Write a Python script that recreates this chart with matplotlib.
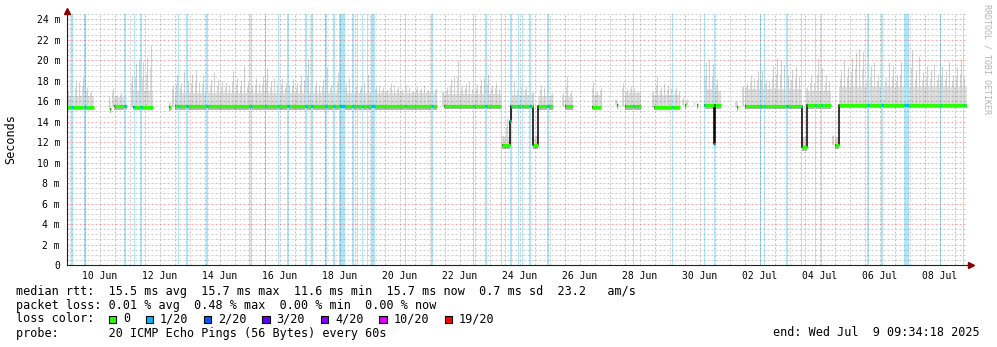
import numpy as np
import matplotlib
matplotlib.use('Agg')
import matplotlib.pyplot as plt
from matplotlib.patches import Rectangle
from datetime import datetime, timedelta

plt.rcParams['font.family'] = ['DejaVu Sans Mono', 'DejaVu Sans']

nan = np.nan

# time is counted in days since 2025-06-09 00:00
day0 = datetime(2025, 6, 9)
t_end_dt = datetime(2025, 7, 9, 9, 34, 18)
t_end = (t_end_dt - day0).total_seconds() / 86400
t_start = t_end - 30

# median rtt segments (ms): start day, end day, median, top of the dense smoke
seg_start = [0.399, 1.822, 1.975, 2.589, 3.809, 3.989, 12.975, 14.909, 15.175, 15.209,
             15.940, 16.099, 16.989, 17.899, 18.732, 18.989, 19.955, 20.989, 21.399, 21.622,
             21.955, 22.009, 22.732, 22.989, 24.899, 25.055, 25.989, 26.142]
seg_end = [1.299, 1.865, 2.399, 3.255, 3.849, 12.732, 14.875, 15.175, 15.209, 15.940,
           16.099, 16.589, 17.255, 18.209, 18.770, 19.542, 20.842, 21.030, 21.440, 21.955,
           22.009, 22.190, 22.770, 24.899, 25.055, 25.875, 26.142, 30.399]
seg_level = [15.45, 15.2, 15.5, 15.45, 15.4, 15.5, 15.55, 11.7, 14.1, 15.55,
             11.7, 15.5, 15.5, 15.45, 15.6, 15.5, 15.45, 15.6, 15.6, 15.6,
             11.8, 15.6, 15.4, 15.55, 11.5, 15.6, 11.7, 15.65]
seg_fill = [16.5, 15.9, 16.4, 17.0, 15.8, 16.8, 16.7, 12.5, 14.4, 16.6,
            12.5, 16.5, 16.4, 16.6, 16.0, 16.8, 16.6, 15.9, 15.9, 17.2,
            12.4, 17.0, 15.9, 17.2, 12.5, 17.0, 12.5, 17.4]

# highest ping (ms) in each 3 hour block starting 2025-06-09 09:00
smoke_t0 = 0.375
smoke_hours = 3
smoke_peak = [
    17.0, 18.7, 18.0, 17.9, 18.4, 17.4, 17.0, nan, nan, nan,
    nan, 16.5, 17.3, 16.6, 16.9, 16.7, nan, 18.5, 19.7, 20.1,
    19.8, 20.3, 21.5, nan, nan, nan, nan, 15.9, 17.6, 18.6,
    17.8, 18.9, 18.0, 18.7, 19.0, 17.9, 18.6, 18.9, 18.2, 18.8,
    18.2, 18.0, 17.9, 17.6, 18.9, 18.3, 18.0, 19.4, 17.9, 17.6,
    18.3, 17.8, 18.5, 19.2, 18.0, 18.3, 18.6, 18.3, 17.8, 17.6,
    18.2, 17.8, 18.6, 18.1, 20.1, 18.0, 17.9, 17.6, 18.2, 19.3,
    17.7, 18.0, 18.8, 18.4, 17.8, 18.3, 18.5, 17.9, 17.5, 17.8,
    18.7, 18.0, 17.5, 17.6, 17.4, 17.2, 17.8, 17.6, 17.5, 17.2,
    17.6, 17.4, 17.0, 17.5, 17.3, 17.6, 17.1, 17.5, 17.3, nan,
    17.0, 17.4, 18.2, 18.5, 20.0, 17.6, 17.8, 18.0, 17.6, 17.7,
    18.2, 18.3, 18.7, 17.6, 17.8, 17.2, 12.6, 14.4, 18.3, 18.0,
    17.6, 18.2, 17.5, 17.3, 16.9, 12.6, 17.6, 17.4, 17.5, 16.8,
    nan, nan, 16.8, 18.5, 17.0, nan, nan, nan, nan, nan,
    17.9, 17.0, 17.4, nan, nan, nan, 16.2, nan, 17.8, 17.2,
    17.5, 17.3, 17.0, nan, nan, nan, 17.0, 18.5, 17.4, 17.8,
    17.6, 17.7, 17.4, 17.0, 16.4, 16.2, nan, 15.9, nan, nan,
    19.8, 20.1, 19.6, 18.2, nan, nan, nan, nan, 16.0, nan,
    17.5, 17.8, 18.6, 18.3, 18.9, 19.0, 18.2, 18.0, 19.4, 20.2,
    20.0, 19.5, 18.6, 19.0, 19.3, 18.5, 12.5, 17.4, 18.6, 17.8,
    20.2, 19.2, 18.6, 18.0, 12.7, 12.5, 19.0, 20.0, 19.3, 20.2,
    20.8, 21.1, 20.8, 18.6, 19.4, 19.8, 18.6, 19.3, 18.4, 19.8,
    19.4, 18.6, 19.8, 20.0, 19.2, 21.0, 19.0, 20.4, 18.8, 19.4,
    19.0, 19.6, 18.7, 19.4, 19.0, 19.8, 18.6, 19.3, 20.0, 18.4,
]

# packet loss events (1/20): middle (day) and length (hours)
loss_at = [0.565, 0.999, 2.322, 2.642, 2.865, 4.122, 4.409, 5.065, 6.489, 6.542,
           7.009, 7.455, 7.765, 8.365, 8.565, 9.032, 9.299, 9.565, 9.932, 10.088,
           10.255, 10.422, 10.609, 11.675, 12.565, 13.955, 14.365, 14.875, 15.199, 15.455,
           15.589, 15.827, 16.432, 19.288, 20.588, 21.655, 21.975, 23.508, 23.655, 24.399,
           24.875, 25.342, 25.542, 27.099, 27.565, 28.372, 29.509, 30.288]
loss_hours = [1.6, 1.0, 1.6, 1.0, 1.0, 1.2, 1.6, 1.0, 1.0, 1.0,
              1.2, 1.0, 1.0, 1.0, 1.2, 1.0, 1.0, 5.3, 1.2, 1.2,
              1.0, 1.0, 3.2, 1.0, 1.0, 1.0, 1.2, 1.0, 1.0, 1.2,
              1.2, 1.8, 1.2, 1.0, 1.0, 1.2, 1.0, 1.0, 1.0, 1.2,
              1.0, 1.0, 1.2, 1.0, 1.0, 4.0, 1.0, 1.2]

loss_labels = ['0', '1/20', '2/20', '3/20', '4/20', '10/20', '19/20']
loss_colors = ['#26ff00', '#00b8ff', '#0059ff', '#5e00ff', '#7e00ff', '#dd00ff', '#ff0000']

rtt_stats = ['15.5 ms avg', '15.7 ms max', '11.6 ms min', '15.7 ms now', '0.7 ms sd', '23.2   am/s']
loss_stats = ['0.01 % avg', '0.48 % max', '0.00 % min', '0.00 % now']
probe_text = '20 ICMP Echo Pings (56 Bytes) every 60s'

W, H = 997, 347
ymax = 251 / 10.24


def fx(px):
    return px / W


def fy(py):
    return 1 - py / H


def nearest_seg(t):
    s = np.array(seg_start)
    e = np.array(seg_end)
    dist = np.maximum(s - t, 0) + np.maximum(t - e, 0)
    return int(np.argmin(dist))


fig = plt.figure(figsize=(W / 100, H / 100), dpi=100)
fig.patch.set_facecolor('white')
ax = fig.add_axes([fx(67), fy(265), 900 / W, 251 / H])
ax.set_xlim(t_start, t_end)
ax.set_ylim(0, ymax)

# smoke: dense part plus the spikes
for s, e, lvl, top in zip(seg_start, seg_end, seg_level, seg_fill):
    ax.fill_between([s, e], lvl - 0.1, top, color='#e0e0e0', lw=0, zorder=1)

bin_mid = smoke_t0 + smoke_hours / 24 * (np.arange(len(smoke_peak)) + 0.5)
for t, peak in zip(bin_mid, smoke_peak):
    if np.isnan(peak):
        continue
    k = nearest_seg(t)
    lvl, top = seg_level[k], seg_fill[k]
    mid = max(top + 0.5 * (peak - top), top)
    ax.bar(t, mid - lvl, bottom=lvl, width=0.055, color='#dadada', lw=0, zorder=1.1)
    ax.vlines(t, lvl, peak, color='#d2d2d2', lw=0.8, zorder=1.1)

for s, e, lvl in zip(seg_start, seg_end, seg_level):
    ax.fill_between([s, e], lvl - 0.35, lvl + 0.05, color='#b4b4b4', lw=0, zorder=1.3)

# loss background bars
for m, h in zip(loss_at, loss_hours):
    ax.axvspan(m - h / 48, m + h / 48, color='#aee5f8', lw=0, zorder=2)

# grid
dash = (0, (2, 2))
for d in np.arange(0.5, 31, 1.0):
    if t_start < d < t_end:
        ax.axvline(d, color=(0, 0, 0, 0.2), lw=0.72, ls=dash, zorder=3)
for d in range(1, 31):
    if t_start < d < t_end:
        ax.axvline(d, color=(1, 0, 0, 0.33), lw=0.72, ls=dash, zorder=3)
for v in np.arange(0.5, 24.6, 0.5):
    if v % 2:
        ax.axhline(v, color=(0, 0, 0, 0.2), lw=0.72, ls=dash, zorder=3)
for v in range(2, 25, 2):
    ax.axhline(v, color=(1, 0, 0, 0.33), lw=0.72, ls=dash, zorder=3)

# median line: black steps between joined segments, loss colour on top
xs, ys = [], []
for i, (s, e, lvl) in enumerate(zip(seg_start, seg_end, seg_level)):
    xs += [s, e]
    ys += [lvl, lvl]
    last = i == len(seg_start) - 1
    if last or abs(seg_start[i + 1] - e) > 1e-6:
        ax.plot(xs, ys, color='black', lw=1.1, zorder=4, solid_capstyle='butt')
        xs, ys = [], []

ax.hlines(seg_level, seg_start, seg_end, color=loss_colors[0], lw=2.3, zorder=5)
for m, h in zip(loss_at, loss_hours):
    a, b = m - h / 48, m + h / 48
    for s, e, lvl in zip(seg_start, seg_end, seg_level):
        if b > s and a < e:
            ax.hlines(lvl, max(a, s), min(b, e), color=loss_colors[1], lw=2.3, zorder=6)

# axes
for side in ['top', 'right']:
    ax.spines[side].set_visible(False)
for side in ['left', 'bottom']:
    ax.spines[side].set_color('#202020')
    ax.spines[side].set_linewidth(0.8)
    ax.spines[side].set_zorder(7)
ax.plot([t_start, t_start], [ymax, ymax + 0.3], color='#202020', lw=0.8, clip_on=False, zorder=7)
ax.plot([t_start], [ymax + 0.3], marker='^', ms=4, color='#8b0000', clip_on=False, zorder=8)
ax.plot([t_end, t_end + 0.1], [0, 0], color='#202020', lw=0.8, clip_on=False, zorder=7)
ax.plot([t_end + 0.12], [0], marker='>', ms=4, color='#8b0000', clip_on=False, zorder=8)

label_days = [day0 + timedelta(days=k) for k in range(1, 30, 2)]
ax.set_xticks([(d - day0).days + 0.5 for d in label_days],
              [d.strftime('%d %b') for d in label_days])
yt = list(range(0, 25, 2))
ax.set_yticks(yt, ['0'] + ['%d m' % v for v in yt[1:]])
ax.tick_params(axis='both', length=0, labelsize=7, colors='#000000')
ax.tick_params(axis='x', pad=4.5)
ax.tick_params(axis='y', pad=5)

fig.text(fx(11), fy(139), 'Seconds', rotation=90, ha='center', va='center', fontsize=8.5)
fig.text(fx(987), fy(4), 'RRDTOOL / TOBI OETIKER', rotation=270, ha='center', va='top',
         fontsize=6, color='#b4b4b4')

# legend block
cw = 7.12
fs = 8.5
fig.text(fx(16), fy(291), 'median rtt:  ' + '  '.join(rtt_stats), va='center', fontsize=fs)
fig.text(fx(16), fy(305), 'packet loss: ' + '  '.join(loss_stats), va='center', fontsize=fs)
fig.text(fx(16), fy(319), 'loss color:', va='center', fontsize=fs)
fig.text(fx(16), fy(333), 'probe:       ' + probe_text, va='center', fontsize=fs)
fig.text(fx(980), fy(333), 'end: Wed Jul  9 09:34:18 2025', va='center', ha='right', fontsize=fs)

bx = 16 + 13 * cw
for lab, col in zip(loss_labels, loss_colors):
    fig.patches.append(Rectangle((fx(bx), fy(323)), 7.5 / W, 7.5 / H, transform=fig.transFigure,
                                 facecolor=col, edgecolor='black', lw=0.8))
    tx = bx + 2 * cw
    fig.text(fx(tx), fy(319), lab, va='center', fontsize=fs)
    bx = tx + (len(lab) + 2.2) * cw

fig.savefig('out.png', dpi=100, facecolor='white')
